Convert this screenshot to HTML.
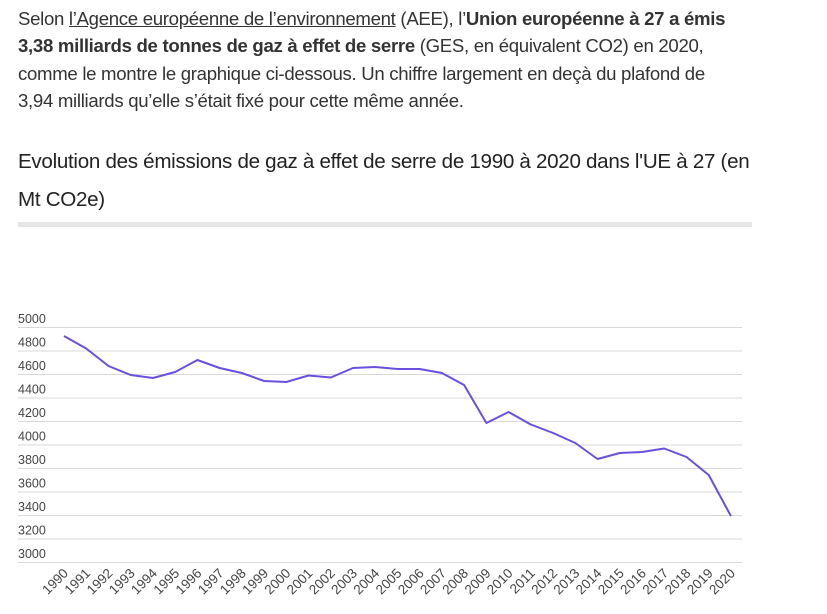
<!DOCTYPE html>
<html><head><meta charset="utf-8"><style>
body{margin:0;background:#fff;width:827px;height:614px;overflow:hidden;font-family:"Liberation Sans",sans-serif;}
.p{position:absolute;left:18px;top:5px;width:800px;font-size:18.6px;line-height:27.3px;color:#333;letter-spacing:-0.3px;white-space:nowrap}
.p u{text-decoration:underline}
.t{position:absolute;left:18px;top:143px;font-size:20.6px;line-height:38px;color:#222;width:800px;letter-spacing:-0.3px;white-space:nowrap}
.bar{position:absolute;left:18px;top:222px;width:734px;height:5px;background:#e6e6e6}
svg{position:absolute;left:0;top:0}
</style></head><body>
<div class="p">Selon <u>l’Agence européenne de l’environnement</u> (AEE), l’<b>Union européenne à 27 a émis</b><br><b>3,38 milliards de tonnes de gaz à effet de serre</b> (GES, en équivalent CO2) en 2020,<br>comme le montre le graphique ci-dessous. Un chiffre largement en deçà du plafond de<br>3,94 milliards qu’elle s’était fixé pour cette même année.</div>
<div class="t">Evolution des émissions de gaz à effet de serre de 1990 à 2020 dans l'UE à 27 (en<br>Mt CO2e)</div>
<div class="bar"></div>
<svg width="827" height="614" font-family="Liberation Sans, sans-serif" font-size="12.5" fill="#444">
<g stroke="#d9d9d9" stroke-width="1">
<line x1="18" x2="742" y1="327.5" y2="327.5"/><line x1="18" x2="742" y1="351" y2="351"/><line x1="18" x2="742" y1="374.5" y2="374.5"/><line x1="18" x2="742" y1="398" y2="398"/><line x1="18" x2="742" y1="421.5" y2="421.5"/><line x1="18" x2="742" y1="445" y2="445"/><line x1="18" x2="742" y1="468.5" y2="468.5"/><line x1="18" x2="742" y1="492" y2="492"/><line x1="18" x2="742" y1="515.5" y2="515.5"/><line x1="18" x2="742" y1="539" y2="539"/><line x1="18" x2="742" y1="562.5" y2="562.5"/>
</g>
<g>
<text x="18" y="323">5000</text><text x="18" y="346.5">4800</text><text x="18" y="370">4600</text><text x="18" y="393.5">4400</text><text x="18" y="417">4200</text><text x="18" y="440.5">4000</text><text x="18" y="464">3800</text><text x="18" y="487.5">3600</text><text x="18" y="511">3400</text><text x="18" y="534.5">3200</text><text x="18" y="558">3000</text>
</g>
<polyline fill="none" stroke="#6a4fe0" stroke-width="2" stroke-linejoin="round" points="64,336 86.2,348.5 108.5,366 130.7,375 152.9,378 175.2,372 197.4,360 219.6,368 241.8,373 264.1,381 286.3,382 308.5,375.5 330.8,377.5 353,368 375.2,367 397.5,369 419.7,369 441.9,373 464.1,385 486.4,423 508.6,412 530.8,424.5 553.1,433 575.3,443 597.5,459 619.8,453 642,452 664.2,448.5 686.5,457 708.7,475 730.9,516"/>
<g font-size="13.5" text-anchor="end">
<text transform="translate(69,574) rotate(-45)">1990</text><text transform="translate(91.2,574) rotate(-45)">1991</text><text transform="translate(113.5,574) rotate(-45)">1992</text><text transform="translate(135.7,574) rotate(-45)">1993</text><text transform="translate(157.9,574) rotate(-45)">1994</text><text transform="translate(180.2,574) rotate(-45)">1995</text><text transform="translate(202.4,574) rotate(-45)">1996</text><text transform="translate(224.6,574) rotate(-45)">1997</text><text transform="translate(246.8,574) rotate(-45)">1998</text><text transform="translate(269.1,574) rotate(-45)">1999</text><text transform="translate(291.3,574) rotate(-45)">2000</text><text transform="translate(313.5,574) rotate(-45)">2001</text><text transform="translate(335.8,574) rotate(-45)">2002</text><text transform="translate(358,574) rotate(-45)">2003</text><text transform="translate(380.2,574) rotate(-45)">2004</text><text transform="translate(402.5,574) rotate(-45)">2005</text><text transform="translate(424.7,574) rotate(-45)">2006</text><text transform="translate(446.9,574) rotate(-45)">2007</text><text transform="translate(469.1,574) rotate(-45)">2008</text><text transform="translate(491.4,574) rotate(-45)">2009</text><text transform="translate(513.6,574) rotate(-45)">2010</text><text transform="translate(535.8,574) rotate(-45)">2011</text><text transform="translate(558.1,574) rotate(-45)">2012</text><text transform="translate(580.3,574) rotate(-45)">2013</text><text transform="translate(602.5,574) rotate(-45)">2014</text><text transform="translate(624.8,574) rotate(-45)">2015</text><text transform="translate(647,574) rotate(-45)">2016</text><text transform="translate(669.2,574) rotate(-45)">2017</text><text transform="translate(691.5,574) rotate(-45)">2018</text><text transform="translate(713.7,574) rotate(-45)">2019</text><text transform="translate(735.9,574) rotate(-45)">2020</text>
</g>
</svg>
</body></html>
